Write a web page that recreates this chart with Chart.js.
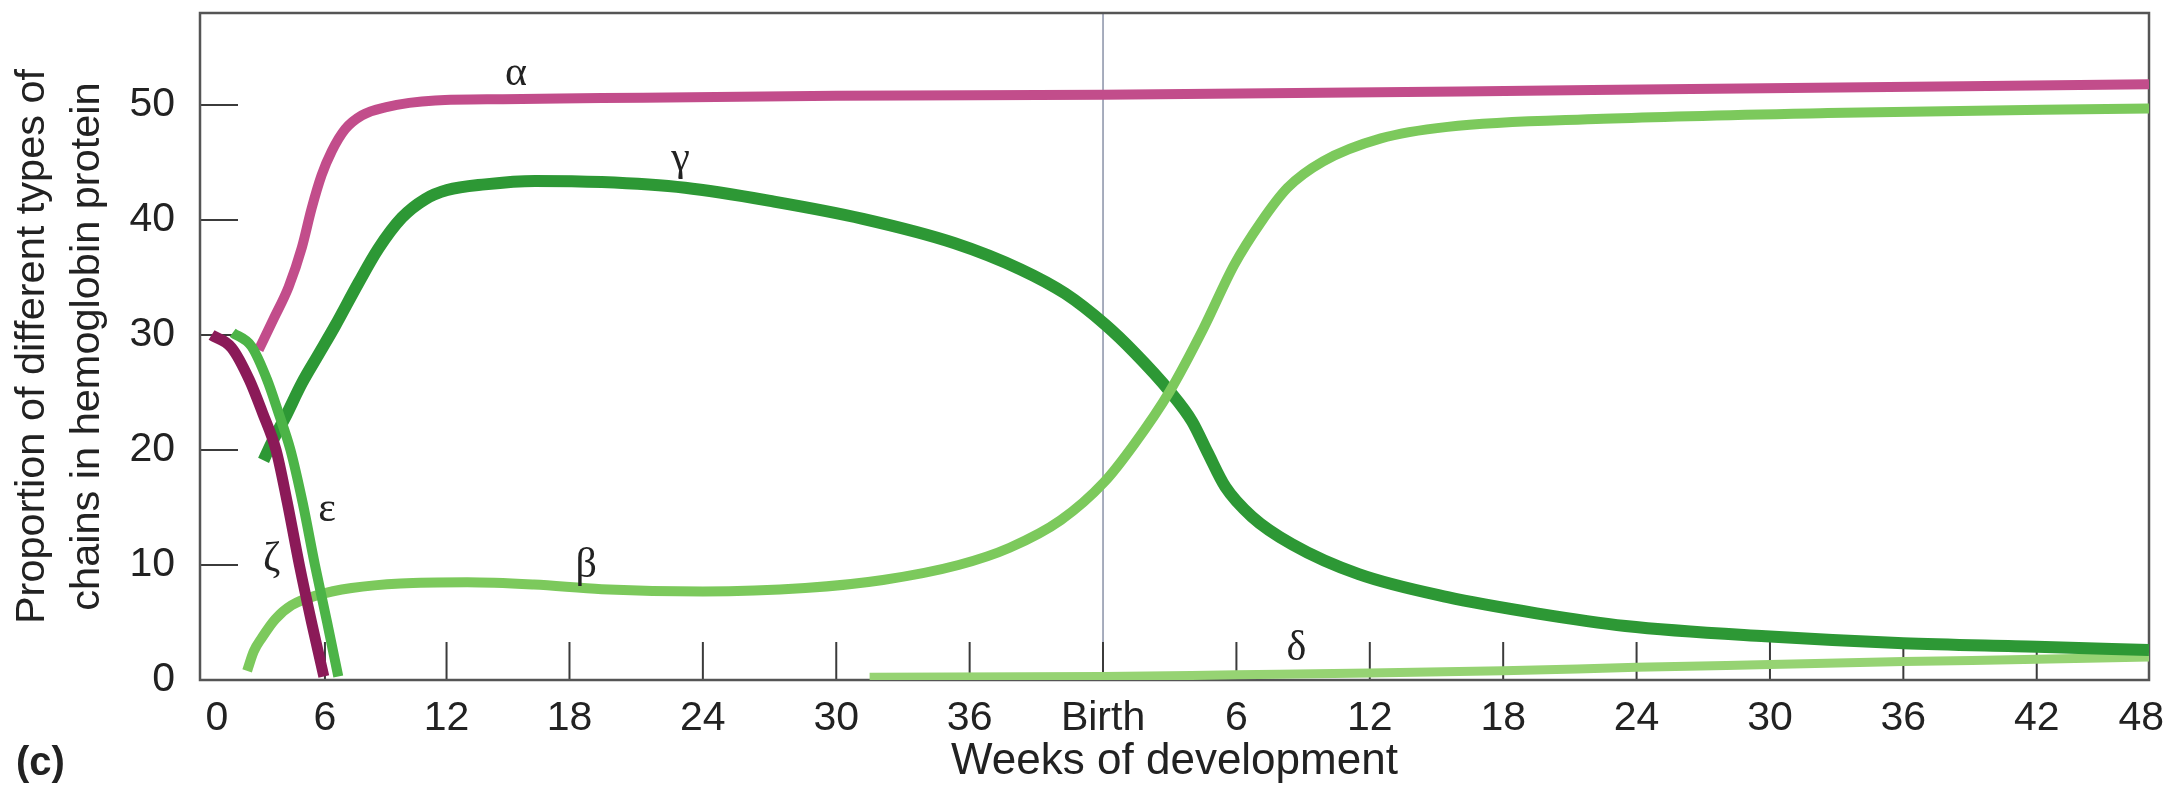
<!DOCTYPE html>
<html>
<head>
<meta charset="utf-8">
<script src="https://cdn.jsdelivr.net/npm/chart.js@4.4.1/dist/chart.umd.min.js"></script>
<style>
  html, body { margin: 0; padding: 0; background: #fff; }
  canvas { display: block; }
</style>
</head>
<body>
<canvas id="hbChart" width="2179" height="786"></canvas>
<script>
// x runs along the drawn axis: 42 = birth, 48..90 = weeks after birth.
// the first ticks of the original are drawn a bit squeezed, so their positions are kept as read
const xTickValues = [2.14, 7.0, 12.47, 18, 24, 30, 36, 42, 48, 54, 60, 66, 72, 78, 84, 88.7];
const xTickLabels = ['0', '6', '12', '18', '24', '30', '36', 'Birth', '6', '12', '18', '24', '30', '36', '42', '48'];
const xTickMarks = [7.0, 12.47, 18, 24, 30, 36, 42, 48, 54, 60, 66, 72, 78, 84];
const yTickValues = [0, 10, 20, 30, 40, 50];
const birthWeek = 42;

// chains, [x, percent]
const zeta = [[1.9, 30.0], [2.8, 28.9], [3.6, 26.1], [4.2, 23.2], [4.8, 20.0], [5.3, 15.5], [5.85, 10.0], [6.4, 5.0], [6.95, 0.3]];
const epsilon = [[2.85, 30.2], [3.7, 29.0], [4.4, 26.1], [4.9, 23.3], [5.45, 20.0], [6.0, 15.4], [6.55, 10.0], [7.1, 5.0], [7.6, 0.3]];
const alpha = [[4.02, 28.7], [4.69, 31.4], [5.37, 34.2], [5.96, 37.6], [6.4, 41.0], [6.85, 43.9], [7.31, 46.0], [7.91, 47.9],
  [8.66, 49.1], [9.71, 49.8], [11.96, 50.4], [15.0, 50.5], [19.45, 50.6], [30, 50.8], [42, 50.9], [64, 51.3], [89.05, 51.8]];
const gamma = [[4.24, 19.1], [4.6, 20.6], [5.2, 22.8], [5.96, 25.8], [6.71, 28.3], [7.46, 30.8], [8.5, 34.5], [9.4, 37.5],
  [10.46, 40.2], [11.5, 41.8], [12.5, 42.6], [14.2, 43.1], [16.45, 43.4], [19.45, 43.3], [23.2, 42.8], [27.2, 41.6],
  [31.2, 40.1], [35.3, 38.0], [38.3, 35.7], [40.3, 33.6], [42.1, 30.9], [43.4, 28.5], [45.0, 25.1], [46.0, 22.5],
  [46.7, 19.8], [47.5, 16.8], [48.7, 14.2], [50.5, 11.8], [53.5, 9.2], [57.5, 7.2], [61.5, 5.8], [65.5, 4.7],
  [71.8, 3.8], [78.0, 3.2], [84.0, 2.9], [89.05, 2.6]];
const beta = [[3.5, 0.8], [3.8, 2.5], [4.17, 3.7], [4.77, 5.3], [5.5, 6.5], [6.7, 7.4], [8.2, 8.0], [10.4, 8.4], [13.4, 8.5],
  [16.4, 8.3], [19.45, 7.9], [24, 7.7], [28.6, 8.0], [32.1, 8.7], [35.5, 10.0], [37.8, 11.5], [40.1, 13.9], [42.05, 17.2],
  [43.4, 20.5], [45.0, 25.1], [46.5, 30.5], [47.9, 36.1], [49.1, 39.8], [50.3, 42.8], [51.9, 45.1], [54.5, 47.1],
  [57.5, 48.1], [64.5, 48.8], [74.6, 49.3], [89.05, 49.7]];
const delta = [[31.5, 0.25], [42, 0.3], [48, 0.45], [54, 0.6], [60, 0.8], [66, 1.1], [72, 1.35], [78, 1.6], [84, 1.8], [89.05, 2.0]];

const curveLabels = [
  { text: 'α', x: 15.6, y: 52.7 },
  { text: 'γ', x: 23.0, y: 45.3 },
  { text: 'ε', x: 7.1, y: 14.8 },
  { text: 'ζ', x: 4.6, y: 10.4 },
  { text: 'β', x: 18.75, y: 9.9 },
  { text: 'δ', x: 50.7, y: 2.7 }
];

function pts(arr) {
  return arr.map(p => ({ x: p[0], y: p[1] }));
}

function line(data, color, width) {
  return {
    data: pts(data),
    borderColor: color,
    borderWidth: width,
    pointRadius: 0,
    fill: false,
    cubicInterpolationMode: 'monotone'
  };
}

const framePlugin = {
  id: 'frame',
  beforeDatasetsDraw(chart) {
    const { ctx, chartArea: a, scales: { x, y } } = chart;
    ctx.save();
    // birth
    ctx.strokeStyle = '#8a92a8';
    ctx.lineWidth = 1.5;
    const bx = x.getPixelForValue(birthWeek);
    ctx.beginPath();
    ctx.moveTo(bx, a.top);
    ctx.lineTo(bx, a.bottom);
    ctx.stroke();
    // tick marks point into the plot
    ctx.strokeStyle = '#3b3b3b';
    ctx.lineWidth = 2;
    xTickMarks.forEach(v => {
      const px = x.getPixelForValue(v);
      ctx.beginPath();
      ctx.moveTo(px, a.bottom);
      ctx.lineTo(px, a.bottom - 38);
      ctx.stroke();
    });
    yTickValues.slice(1).forEach(v => {
      const py = y.getPixelForValue(v);
      ctx.beginPath();
      ctx.moveTo(a.left, py);
      ctx.lineTo(a.left + 38, py);
      ctx.stroke();
    });
    ctx.strokeStyle = '#555';
    ctx.lineWidth = 2.5;
    ctx.strokeRect(a.left, a.top, a.right - a.left, a.bottom - a.top);
    ctx.restore();
  },
  afterDatasetsDraw(chart) {
    const { ctx, scales: { x, y } } = chart;
    ctx.save();
    ctx.fillStyle = '#222';
    ctx.textAlign = 'center';
    ctx.textBaseline = 'middle';
    ctx.font = '42px "Liberation Serif", serif';
    curveLabels.forEach(l => {
      ctx.fillText(l.text, x.getPixelForValue(l.x), y.getPixelForValue(l.y));
    });
    ctx.textAlign = 'left';
    ctx.font = 'bold 40px "Liberation Sans", Arial, sans-serif';
    ctx.fillText('(c)', 16, 764);
    ctx.restore();
  }
};

Chart.defaults.font.family = '"Liberation Sans", Arial, sans-serif';
Chart.defaults.color = '#222';

new Chart(document.getElementById('hbChart'), {
  type: 'line',
  data: {
    datasets: [
      line(zeta, '#8b1a58', 11),
      line(epsilon, '#4cb447', 10),
      line(alpha, '#c24d8b', 10),
      line(beta, '#7cc95c', 10),
      line(gamma, '#2d9835', 12),
      line(delta, '#96d373', 9)
    ]
  },
  options: {
    responsive: false,
    animation: false,
    devicePixelRatio: 1,
    layout: { padding: { top: 13, right: 30, left: 0, bottom: 0 } },
    plugins: { legend: { display: false }, tooltip: { enabled: false } },
    scales: {
      x: {
        type: 'linear',
        min: 1.38,
        max: 89.05,
        afterBuildTicks: s => { s.ticks = xTickValues.map(v => ({ value: v })); },
        afterFit: s => { s.height = 106; },
        grid: { display: false, drawTicks: false },
        border: { display: false },
        ticks: {
          autoSkip: false,
          maxRotation: 0,
          padding: 14,
          font: { size: 41 },
          callback: (v, i) => xTickLabels[i]
        },
        title: {
          display: true,
          text: 'Weeks of development',
          font: { size: 44, lineHeight: 1.1 },
          padding: { top: 0, bottom: 0 }
        }
      },
      y: {
        min: 0,
        max: 58,
        afterBuildTicks: s => { s.ticks = yTickValues.map(v => ({ value: v })); },
        afterFit: s => {
          s.width = 200;
          // keep the plot top where the figure has it
          s.paddingTop = 0;
          s.paddingBottom = 0;
        },
        grid: { display: false, drawTicks: false },
        border: { display: false },
        ticks: { padding: 25, font: { size: 41 } },
        title: {
          display: true,
          text: ['Proportion of different types of', 'chains in hemoglobin protein'],
          font: { size: 41.5, lineHeight: 1.33 },
          padding: { top: 5, bottom: 0 }
        }
      }
    }
  },
  plugins: [framePlugin]
});
</script>
</body>
</html>
